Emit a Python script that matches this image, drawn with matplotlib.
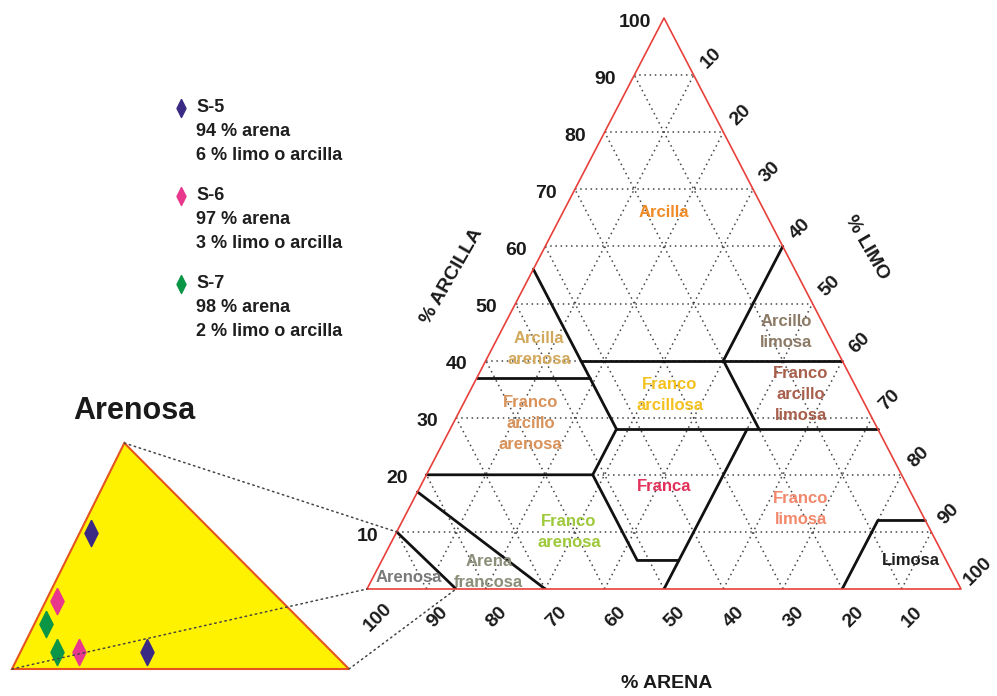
import matplotlib
matplotlib.use("Agg")
import matplotlib.pyplot as plt
import matplotlib.transforms as mtransforms
from matplotlib.patches import Polygon, ConnectionPatch
import numpy as np

plt.rcParams["font.family"] = ["Liberation Sans", "DejaVu Sans"]
plt.rcParams["font.weight"] = "bold"

# Muestras: % de arena y % de limo o arcilla
muestras = ["S-5", "S-6", "S-7"]
arena_pct = [94, 97, 98]
finos_pct = [6, 3, 2]
colores_muestra = ["#3b2a84", "#e8378c", "#0b9546"]

marcas = [10, 20, 30, 40, 50, 60, 70, 80, 90, 100]

# Límites entre clases texturales, cada punto es (arena, limo, arcilla)
lim_arenosa = [(85, 15, 0), (90, 0, 10)]
lim_arena_francosa = [(70, 30, 0), (83, 0, 17)]
lim_franco_arenosa = [(80, 0, 20), (52, 28, 20), (52, 43, 5), (45, 50, 5)]
lim_limo_28 = [(52, 28, 20), (44, 28, 28)]
lim_arcilla_37 = [(63, 0, 37), (44, 19, 37)]
lim_arena_44 = [(44, 0, 56), (44, 28, 28)]
lim_arcilla_40 = [(44, 16, 40), (0, 60, 40)]
lim_arcilla_28 = [(44, 28, 28), (0, 72, 28)]
lim_limo_40 = [(20, 40, 40), (0, 40, 60)]
lim_arena_20 = [(20, 40, 40), (20, 52, 28)]
lim_limo_50 = [(50, 50, 0), (22, 50, 28)]
lim_limosa = [(20, 80, 0), (8, 80, 12), (0, 88, 12)]

limites = [lim_arenosa, lim_arena_francosa, lim_franco_arenosa, lim_limo_28,
           lim_arcilla_37, lim_arena_44, lim_arcilla_40, lim_arcilla_28,
           lim_limo_40, lim_arena_20, lim_limo_50, lim_limosa]

clases = ["Arcilla", "Arcilla\narenosa", "Arcillo\nlimosa", "Franco\narcillosa",
          "Franco\narcillo\nlimosa", "Franco\narcillo\narenosa", "Franca",
          "Franco\narenosa", "Franco\nlimosa", "Arena\nfrancosa", "Arenosa", "Limosa"]
colores_clase = ["#f08a24", "#d2a95c", "#8c7a66", "#f4c11f", "#a8604c", "#d8925a",
                 "#e2305a", "#9dc93a", "#f2886c", "#8b8e78", "#7a7a7a", "#1e1e1e"]


def xy(puntos):
    p = np.asarray(puntos, dtype=float)
    limo, arcilla = p[:, 1], p[:, 2]
    return limo + arcilla / 2, arcilla


def pt(arena, limo, arcilla):
    return float(limo + arcilla / 2), float(arcilla)


fig = plt.figure(figsize=(9.97, 6.96), dpi=100)

# --- triángulo principal ---
ax = fig.add_axes([367 / 997, 107 / 696, 594 / 997, 571 / 696])
ax.set_xlim(0, 100)
ax.set_ylim(0, 100)
ax.axis("off")

punteado = dict(color="#444444", lw=1.1, ls=(0, (1, 2.4)), zorder=1)
for t in marcas[:-1]:
    for seg in ([(100 - t, 0, t), (0, 100 - t, t)],
                [(t, 100 - t, 0), (t, 0, 100 - t)],
                [(100 - t, t, 0), (0, t, 100 - t)]):
        ax.plot(*xy(seg), **punteado)

for lim in limites:
    ax.plot(*xy(lim), color="#111111", lw=2.0, solid_capstyle="round", zorder=3)

bx, by = xy([(100, 0, 0), (0, 100, 0), (0, 0, 100), (100, 0, 0)])
ax.plot(bx, by, color="#e8403a", lw=1.2, zorder=4, clip_on=False)

tick_kw = dict(fontsize=14, fontweight="bold", color="#1a1a1a",
               ha="center", va="center", textcoords="offset points")
for t in marcas:
    ax.annotate(str(t), pt(100 - t, 0, t), xytext=(-21, -3), **tick_kw)
    ax.annotate(str(t), pt(0, t, 100 - t), xytext=(12.5, 12.5), rotation=45, **tick_kw)
    ax.annotate(str(t), pt(t, 100 - t, 0), xytext=(8, -20.5), rotation=45, **tick_kw)

# etiquetas de clase, posición como (arena, limo, arcilla)
pos_clase = [(17, 17, 66), (50, 8, 42), (7, 48, 45), (32, 34, 34),
             (10, 56, 34), (58, 13, 29), (41, 41, 18), (61, 29, 10),
             (20, 66, 14), (78, 19, 3), (92, 6, 2), (6, 89, 5)]
for nombre, color, p in zip(clases, colores_clase, pos_clase):
    ax.text(*pt(*p), nombre, color=color, fontsize=12, fontweight="bold",
            ha="center", va="center", linespacing=1.5, zorder=5)

# --- ampliación de la clase Arenosa ---
axi = fig.add_axes([12 / 997, 27 / 696, 337 / 997, 226 / 696])
axi.set_xlim(0, 15)
axi.set_ylim(0, 10)
axi.axis("off")

esquinas = [(100, 0, 0)] + lim_arenosa[::-1]
ix, iy = xy(esquinas)
axi.add_patch(Polygon(np.column_stack([ix, iy]), closed=True, facecolor="#fff200",
                      edgecolor="#e5541f", lw=1.5, clip_on=False, zorder=1))

for p in esquinas:
    con = ConnectionPatch(xyA=pt(*p), coordsA=axi.transData,
                          xyB=pt(*p), coordsB=ax.transData,
                          color="#444444", lw=1.1, ls=(0, (1, 2.4)), zorder=6)
    fig.add_artist(con)

rombo = [(0, 1), (0.5, 0), (0, -1), (-0.5, 0), (0, 1)]
tr_arcilla = mtransforms.offset_copy(axi.transData, fig=fig, x=8, y=0, units="points")
tr_limo = mtransforms.offset_copy(axi.transData, fig=fig, x=0, y=12, units="points")
for a, f, c in zip(arena_pct, finos_pct, colores_muestra):
    px, py = pt(a, 0, f)
    axi.plot([px], [py], marker=rombo, ms=19, color=c, ls="none", transform=tr_arcilla,
             clip_on=False, zorder=3)
    px, py = pt(a, f, 0)
    axi.plot([px], [py], marker=rombo, ms=19, color=c, ls="none", transform=tr_limo,
             clip_on=False, zorder=3)

# --- textos libres y leyenda ---
lay = fig.add_axes([0, 0, 1, 1], zorder=-1)
lay.set_xlim(0, 997)
lay.set_ylim(696, 0)
lay.axis("off")

txt = dict(fontweight="bold", color="#1a1a1a", ha="center", va="center")
lay.text(452, 276, "% ARCILLA", fontsize=14, rotation=60, **txt)
lay.text(867, 248, "% LIMO", fontsize=14, rotation=-60, **txt)
lay.text(667, 683, "% ARENA", fontsize=14, **txt)
lay.text(134, 411, "Arenosa", fontsize=22, **txt)

for i, (m, a, f, c) in enumerate(zip(muestras, arena_pct, finos_pct, colores_muestra)):
    y0 = 108 + i * 88
    lay.plot([181], [y0], marker=rombo, ms=13, color=c, ls="none")
    for k, linea in enumerate([m, f"{a} % arena", f"{f} % limo o arcilla"]):
        lay.text(196, y0 + k * 24, linea, fontsize=13, fontweight="bold",
                 color="#1e1e1e", ha="left", va="center")

fig.savefig("out.png", dpi=100)
